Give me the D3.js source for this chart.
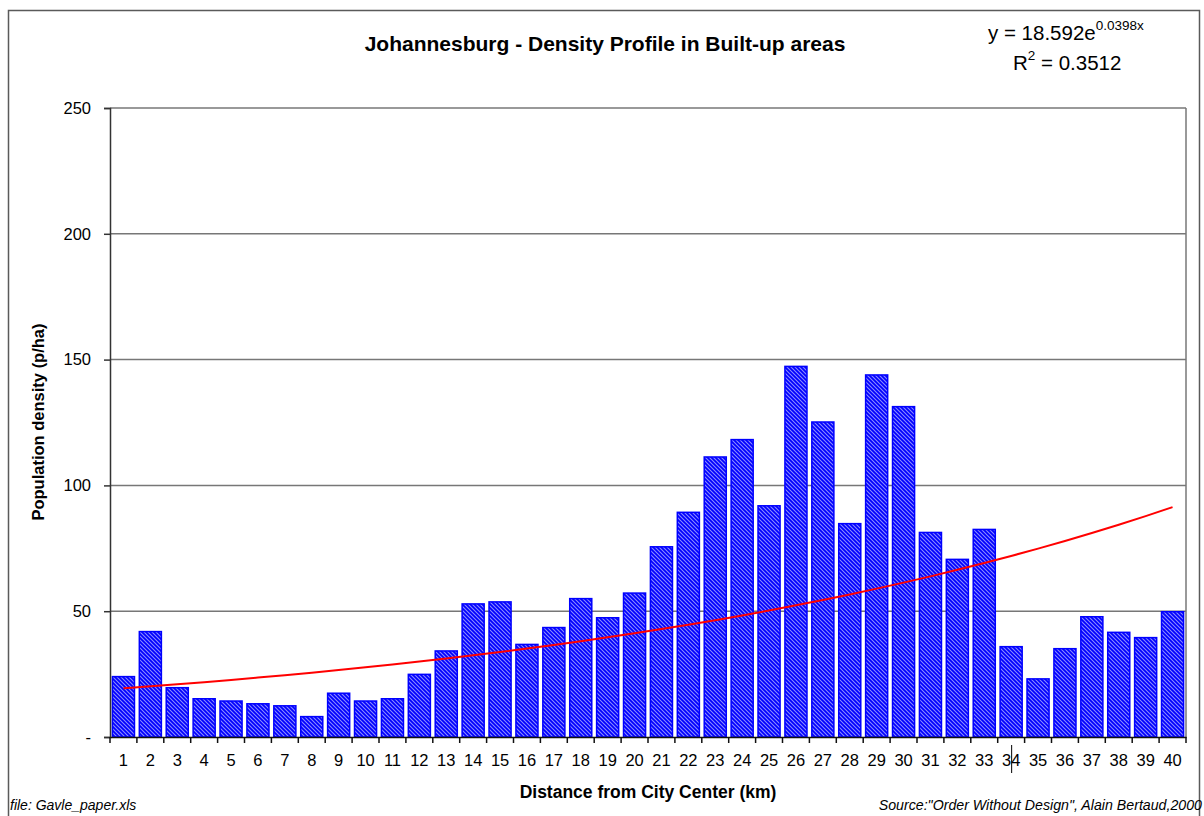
<!DOCTYPE html>
<html>
<head>
<meta charset="utf-8">
<script src="https://cdn.jsdelivr.net/npm/d3@7"></script>
<style>
  body { margin: 0; background: #fff; }
  svg { display: block; font-family: "Liberation Sans", Arial, sans-serif; }
</style>
</head>
<body>
<svg id="chart"></svg>
<script>
const width = 1204;
const height = 816;

// distance from city centre (km)
const distances = d3.range(1, 41);
// population density, p/ha
const densities = [
  24.0, 41.9, 19.6, 15.2, 14.3, 13.2, 12.4, 8.1, 17.4, 14.3,
  15.2, 24.9, 34.2, 52.9, 53.7, 36.8, 43.5, 55.0, 47.4, 57.2,
  75.6, 89.3, 111.3, 118.2, 91.9, 147.3, 125.2, 84.8, 143.9, 131.3,
  81.3, 70.6, 82.5, 35.9, 23.1, 35.1, 47.8, 41.6, 39.5, 49.8
];
const yTicks = [0, 50, 100, 150, 200, 250];
// Excel exponential trendline y = a * e^(b x)
const trendA = 18.592;
const trendB = 0.0398;

const margin = {top: 108, right: 18, bottom: 79, left: 110};

const svg = d3.select('#chart')
  .attr('width', width)
  .attr('height', height);

const defs = svg.append('defs');
const pat = defs.append('pattern')
  .attr('id', 'hatch')
  .attr('patternUnits', 'userSpaceOnUse')
  .attr('width', 4)
  .attr('height', 4);
pat.append('rect')
  .attr('width', 4).attr('height', 4)
  .attr('fill', '#0000ff');
pat.append('path')
  .attr('d', 'M-1,-1 L5,5 M-1,3 L1,5 M3,-1 L5,1')
  .attr('stroke', '#ffffff')
  .attr('stroke-opacity', 0.55)
  .attr('stroke-width', 1.1);

// outer chart border
svg.append('rect')
  .attr('x', 8.5).attr('y', 10.5)
  .attr('width', 1191).attr('height', 830)
  .attr('fill', 'none')
  .attr('stroke', '#5a5a5a')
  .attr('stroke-width', 1.5);

const x = d3.scaleBand()
  .domain(distances)
  .range([margin.left, width - margin.right])
  .paddingInner(0.18)
  .paddingOuter(0.09);

const xPos = d3.scaleBand()
  .domain(distances)
  .range([margin.left, width - margin.right]);

const y = d3.scaleLinear()
  .domain([0, 250])
  .range([height - margin.bottom, margin.top]);

// grid lines
svg.append('g')
  .selectAll('line')
  .data(yTicks.filter(d => d > 0))
  .join('line')
  .attr('x1', margin.left)
  .attr('x2', width - margin.right)
  .attr('y1', d => y(d))
  .attr('y2', d => y(d))
  .attr('stroke', '#777')
  .attr('stroke-width', 1.5);

// right border of plot area
svg.append('line')
  .attr('x1', width - margin.right).attr('x2', width - margin.right)
  .attr('y1', y(250)).attr('y2', y(0))
  .attr('stroke', '#777')
  .attr('stroke-width', 1.5);

// bars
svg.append('g')
  .selectAll('rect')
  .data(densities)
  .join('rect')
  .attr('x', (d, i) => x(distances[i]))
  .attr('y', d => y(d))
  .attr('width', x.bandwidth())
  .attr('height', d => y(0) - y(d))
  .attr('fill', 'url(#hatch)')
  .attr('stroke', '#0000ff')
  .attr('stroke-width', 1.5);

// trendline
const trend = distances.map(d => [d, trendA * Math.exp(trendB * d)]);
const line = d3.line()
  .x(d => xPos(d[0]) + xPos.bandwidth() / 2)
  .y(d => y(d[1]))
  .curve(d3.curveMonotoneX);
svg.append('path')
  .datum(trend)
  .attr('d', line)
  .attr('fill', 'none')
  .attr('stroke', '#ff0000')
  .attr('stroke-width', 2);

// y axis
const yAxis = svg.append('g')
  .attr('transform', `translate(${margin.left},0)`)
  .call(d3.axisLeft(y)
    .tickValues(yTicks)
    .tickSize(6)
    .tickPadding(13)
    .tickFormat(d => d === 0 ? '-' : d));
yAxis.select('.domain').attr('stroke', '#333').attr('stroke-width', 1.5);
yAxis.selectAll('.tick line').attr('stroke', '#333').attr('stroke-width', 1.5);
yAxis.selectAll('.tick text')
  .attr('font-size', 16.5)
  .attr('font-family', '"Liberation Sans", Arial, sans-serif')
  .attr('fill', '#000');

// x axis
const xAxis = svg.append('g')
  .attr('transform', `translate(0,${y(0)})`)
  .call(d3.axisBottom(xPos).tickSize(0).tickPadding(17));
xAxis.select('.domain').attr('stroke', '#111').attr('stroke-width', 1.5);
xAxis.selectAll('.tick text')
  .attr('font-size', 16.5)
  .attr('font-family', '"Liberation Sans", Arial, sans-serif')
  .attr('fill', '#000');
// tick marks between categories
xAxis.append('g')
  .selectAll('line')
  .data(distances.concat([41]))
  .join('line')
  .attr('x1', d => d <= 40 ? xPos(d) : xPos(40) + xPos.bandwidth())
  .attr('x2', d => d <= 40 ? xPos(d) : xPos(40) + xPos.bandwidth())
  .attr('y1', 0)
  .attr('y2', 6)
  .attr('stroke', '#111')
  .attr('stroke-width', 1.5);

// stray cursor mark near label 34
svg.append('line')
  .attr('x1', xPos(34) + xPos.bandwidth() / 2 + 0.5)
  .attr('x2', xPos(34) + xPos.bandwidth() / 2 + 0.5)
  .attr('y1', 745).attr('y2', 773)
  .attr('stroke', '#000')
  .attr('stroke-width', 1);

// titles
svg.append('text')
  .attr('x', 605).attr('y', 51)
  .attr('text-anchor', 'middle')
  .attr('font-size', 21)
  .attr('font-weight', 'bold')
  .text('Johannesburg - Density Profile in Built-up areas');

svg.append('text')
  .attr('x', 648).attr('y', 798)
  .attr('text-anchor', 'middle')
  .attr('font-size', 17.5)
  .attr('font-weight', 'bold')
  .text('Distance from City Center (km)');

svg.append('text')
  .attr('transform', 'translate(44,422) rotate(-90)')
  .attr('text-anchor', 'middle')
  .attr('font-size', 16.5)
  .attr('font-weight', 'bold')
  .text('Population density (p/ha)');

// equation
const eq = svg.append('text')
  .attr('x', 988).attr('y', 40)
  .attr('font-size', 20.5);
eq.append('tspan').text('y = 18.592e');
eq.append('tspan')
  .attr('font-size', 13.5)
  .attr('dy', -10)
  .text('0.0398x');

const r2 = svg.append('text')
  .attr('x', 1013).attr('y', 70)
  .attr('font-size', 20.5);
r2.append('tspan').text('R');
r2.append('tspan').attr('font-size', 13.5).attr('dy', -10).text('2');
r2.append('tspan').attr('dy', 10).text(' = 0.3512');

// footers
svg.append('text')
  .attr('x', 10).attr('y', 810)
  .attr('font-size', 14)
  .attr('font-style', 'italic')
  .text('file: Gavle_paper.xls');

svg.append('text')
  .attr('x', 1202).attr('y', 810)
  .attr('text-anchor', 'end')
  .attr('font-size', 14.2)
  .attr('font-style', 'italic')
  .text('Source:"Order Without Design", Alain Bertaud,2000');
</script>
</body>
</html>
